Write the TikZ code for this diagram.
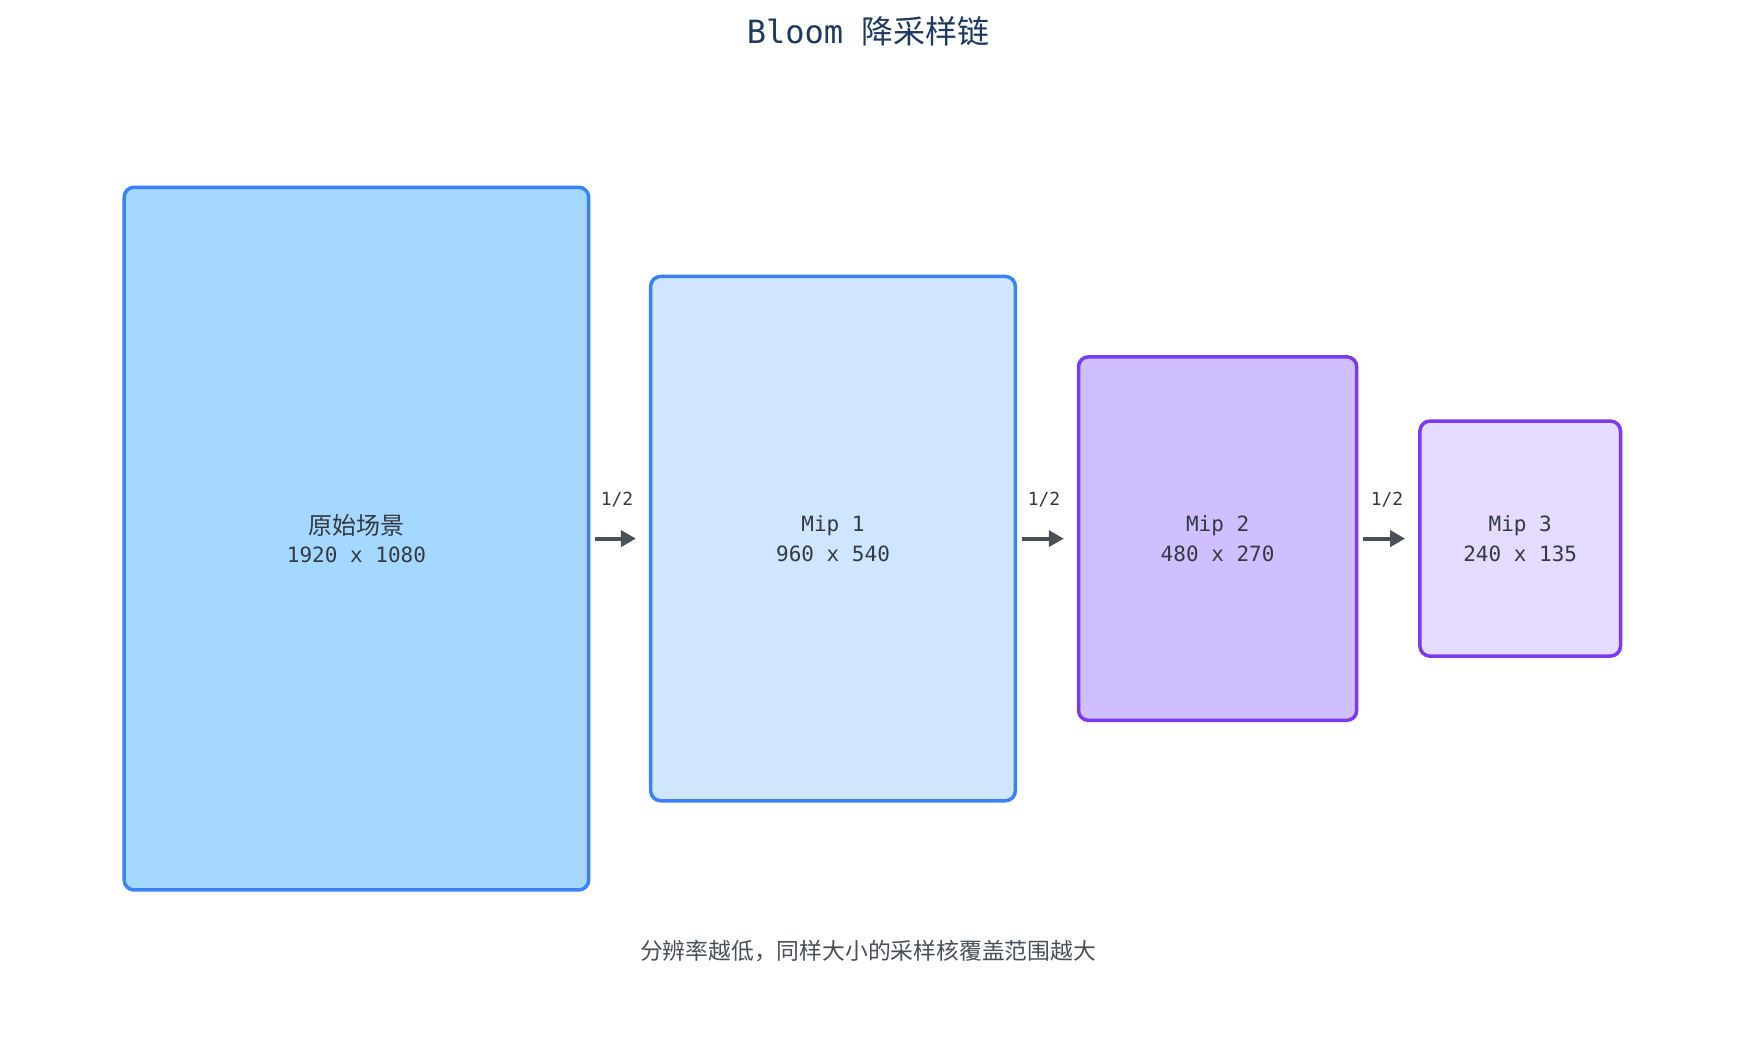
\documentclass[tikz,border=0pt]{standalone}
\usepackage{fontspec}
\usetikzlibrary{arrows.meta}
\newfontfamily\cjk{Noto Sans CJK SC}
\newfontfamily\lat{DejaVu Sans Mono}
\definecolor{titlec}{HTML}{1E3A5F}
\definecolor{txtc}{HTML}{343A40}
\definecolor{footc}{HTML}{495057}
\definecolor{arrc}{HTML}{495057}
\definecolor{blueS}{HTML}{3B82F6}
\definecolor{blueA}{HTML}{A5D8FF}
\definecolor{blueB}{HTML}{D0E6FF}
\definecolor{purS}{HTML}{7C3AED}
\definecolor{purA}{HTML}{D0BFFF}
\definecolor{purB}{HTML}{E5DBFF}
\tikzset{
  mipbox/.style={rectangle, rounded corners=10pt, line width=3.5pt, align=center,
    text=txtc, inner sep=0pt},
  bluebox/.style={mipbox, draw=blueS},
  purbox/.style={mipbox, draw=purS},
  halfarrow/.style={-{Triangle[length=15pt,width=16pt]}, line width=4pt, draw=arrc,
    shorten <=5pt, shorten >=13pt},
  halflabel/.style={text=txtc, font=\lat\fontsize{18}{20}\selectfont},
}
\newcommand\boxtxt[2]{{#1}\\[9pt]{\lat\fontsize{21}{28}\selectfont #2}}
\begin{document}
\begin{tikzpicture}[x=1pt,y=-1pt]
\useasboundingbox (0,0) rectangle (1738,1062);
\fill[white] (0,0) rectangle (1738,1062);
\node[text=titlec] (title) at (868,31) {\fontsize{32}{36}\selectfont{\lat Bloom}\hspace{18pt}{\cjk 降采样链}};
\node[bluebox, fill=blueA, minimum width=464.5pt, minimum height=702.7pt] (b0) at (356.4,538.6)
  {\boxtxt{\cjk\fontsize{24}{28}\selectfont 原始场景}{1920 x 1080}};
\node[bluebox, fill=blueB, minimum width=364.7pt, minimum height=524.3pt] (b1) at (833,538.6)
  {\boxtxt{\lat\fontsize{21}{28}\selectfont Mip 1}{960 x 540}};
\node[purbox, fill=purA, minimum width=278.2pt, minimum height=363.5pt] (b2) at (1217.6,538.6)
  {\boxtxt{\lat\fontsize{21}{28}\selectfont Mip 2}{480 x 270}};
\node[purbox, fill=purB, minimum width=200.6pt, minimum height=235pt] (b3) at (1520.2,538.6)
  {\boxtxt{\lat\fontsize{21}{28}\selectfont Mip 3}{240 x 135}};
\draw[halfarrow] (b0.east) -- (b1.west);
\draw[halfarrow] (b1.east) -- (b2.west);
\draw[halfarrow] (b2.east) -- (b3.west);
\node[halflabel] (h0) at (617,500) {1/2};
\node[halflabel] (h1) at (1044,500) {1/2};
\node[halflabel] (h2) at (1387,500) {1/2};
\node[text=footc] (foot) at (868,951) {\cjk\fontsize{22.8}{26}\selectfont 分辨率越低，同样大小的采样核覆盖范围越大};
\end{tikzpicture}
\end{document}
